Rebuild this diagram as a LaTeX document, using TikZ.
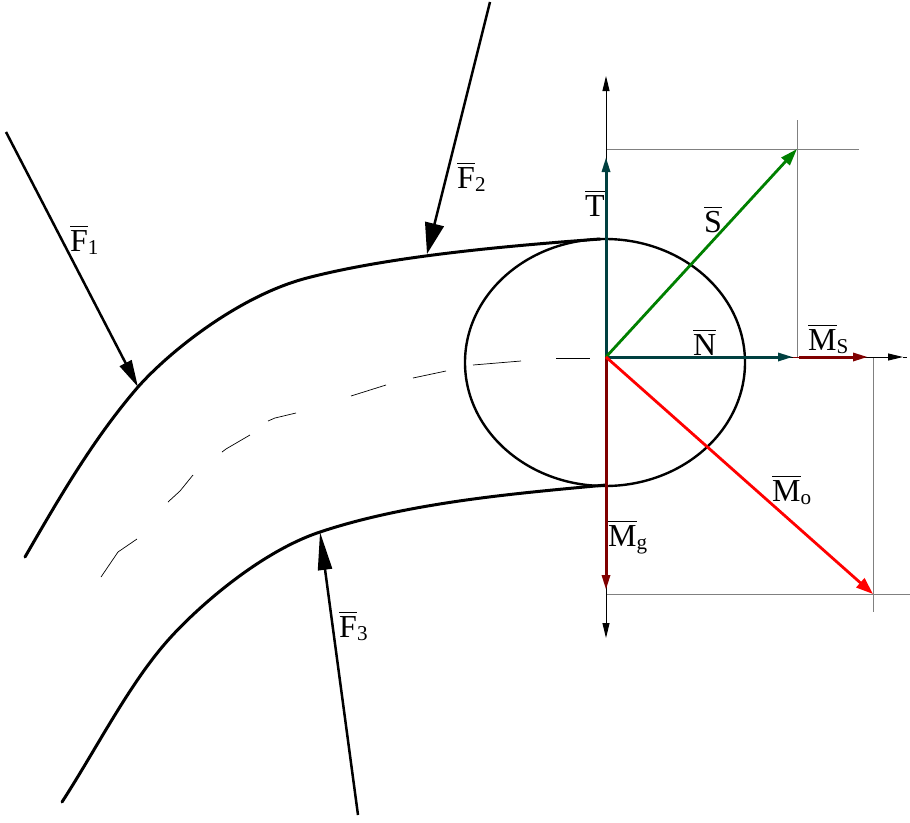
\documentclass[tikz,border=0pt]{standalone}
\usepackage{fontspec}
\setmainfont{Liberation Serif}
\usepackage{graphicx}
\usetikzlibrary{arrows.meta}
\definecolor{tealdark}{RGB}{0,64,64}
\definecolor{reddark}{RGB}{128,0,0}
\definecolor{greendark}{RGB}{0,128,0}
\newcommand{\barlabel}[2]{$\overline{\hbox{\rule{0pt}{23.5pt}#1}}$\raisebox{-3.5pt}{\scalebox{.66}{#2}}}
\begin{document}
\begin{tikzpicture}[
			x=1pt, y=-1pt,
			L/.style = {inner sep=0pt, anchor=base west,
				font=\fontsize{32}{33}\selectfont},
			body/.style = {line width=3pt, line cap=round, black},
			thin line/.style = {line width=0.7pt},
			axis/.style = {line width=1pt, -{Triangle[length=15pt,width=7pt]}},
			force/.style n args = {2}{line width=2.5pt, -{Triangle[length=#1pt,width=#2pt]}},
			vec/.style n args = {2}{line width=#2pt, color=#1,
				-{Triangle[length=15pt,width=8pt]}},
			guide/.style = {line width=0.8pt, gray},
			]
			\useasboundingbox (0,0) rectangle (910,822);
			% points of the picture
			\coordinate (O) at (606,357);
			\coordinate (Ttip) at (606,157);
			\coordinate (Ntip) at (793,357);
			\coordinate (Mss) at (799,357);
			\coordinate (Mstip) at (868,357);
			\coordinate (Mgtip) at (606,590);
			\coordinate (Stip) at (797,149);
			\coordinate (Motip) at (873,594);
			% body outline
			\draw[body] (25,557) .. controls (58,500) and (93,439) .. (138,387)
				.. controls (168,353) and (238,296) .. (307,278)
				.. controls (395,255) and (520,245) .. (600,239);
			\draw[body] (62,802) .. controls (97,748) and (130,682) .. (170,638)
				.. controls (198,607) and (260,552) .. (320,532)
				.. controls (410,502) and (520,493) .. (606,485);
			\draw[line width=2.4pt] (605,362.5) ellipse [x radius=140pt, y radius=123.5pt];
			% centre line
			\draw[thin line] (101,577) -- (118,552) -- (137,539);
			\draw[thin line] (168,502) -- (180,491) -- (193,475);
			\draw[thin line] (222,452) -- (226,449) -- (250,435);
			\draw[thin line] (268,421) -- (275,418) -- (296,413);
			\draw[thin line] (351,396) -- (386,385);
			\draw[thin line] (413,378) -- (446,371);
			\draw[thin line] (473,365) -- (521,361);
			\draw[thin line] (556,358) -- (590,358);
			% construction lines
			\draw[guide] (O |- Stip) -- (859,149);
			\draw[guide] (797,120) -- (797,357);
			\draw[guide] (Mstip -| Motip) -- (873,612);
			\draw[guide] (O |- Motip) -- (910,594);
			% axes
			\coordinate (Atop) at (606,76);
			\coordinate (Abot) at (606,638);
			\coordinate (Aright) at (903,357);
			\draw[axis] (O) -- (Atop);
			\draw[axis] (O) -- (Abot);
			\draw[axis] (O) -- (Aright);
			\draw[line width=1pt] (Aright) -- (907,357);
			% vectors
			\draw[vec={tealdark}{3}] (O) -- (Ttip);
			\draw[vec={tealdark}{3}] (O) -- (Ntip);
			\draw[line width=1pt, reddark] (Ntip) -- (Mss);
			\draw[vec={reddark}{3}] (Mss) -- (Mstip);
			\draw[vec={reddark}{3}] (O) -- (Mgtip);
			\draw[line width=2.8pt, greendark, -{Triangle[length=17pt,width=11pt]}] (O) -- (Stip);
			\draw[line width=2.8pt, red, -{Triangle[length=17pt,width=12pt]}] (O) -- (Motip);
			% forces
			\coordinate (F1a) at (6,132);
			\coordinate (F1b) at (138,387);
			\coordinate (F2a) at (490,2);
			\coordinate (F2b) at (427,254);
			\coordinate (F3a) at (358,815);
			\coordinate (F3b) at (320,532);
			\draw[force={27}{13}] (F1a) -- (F1b);
			\draw[force={31}{19}] (F2a) -- (F2b);
			\draw[force={38}{14}] (F3a) -- (F3b);
			% labels
			\node[L] (F1) at (70,251) {\barlabel{F}{1}};
			\node[L] (F2) at (457,188) {\barlabel{F}{2}};
			\node[L] (F3) at (339,637) {\barlabel{F}{3}};
			\node[L] (T) at (585,216) {\barlabel{T}{}};
			\node[L] (S) at (704,232) {\barlabel{S}{}};
			\node[L] (N) at (693,355) {\barlabel{N}{}};
			\node[L] (Ms) at (808,350) {\barlabel{M}{S}};
			\node[L] (Mo) at (772,501) {\barlabel{M}{o}};
			\node[L] (Mg) at (608,546) {\barlabel{M}{g}};
		\end{tikzpicture}
\end{document}
